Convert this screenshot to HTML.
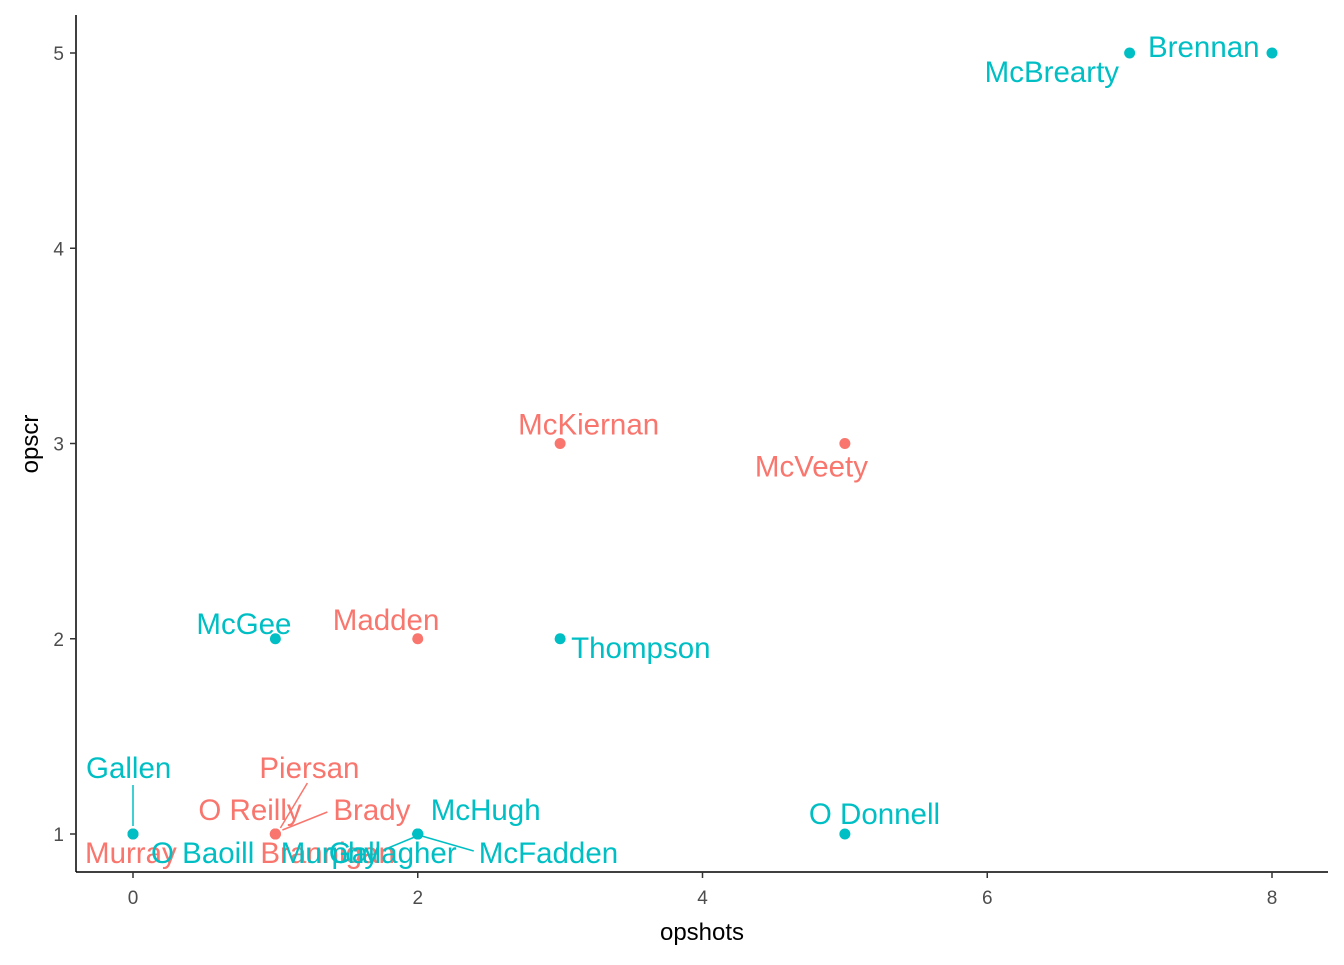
<!DOCTYPE html>
<html><head><meta charset="utf-8"><style>
body{margin:0;background:#fff;}
svg text{font-family:"Liberation Sans",Arial,sans-serif;}
</style></head><body>
<svg id="chart" width="1344" height="960" xmlns="http://www.w3.org/2000/svg">
<rect width="1344" height="960" fill="#fff"/>
<g id="labels"></g>
<g id="points"></g>
<line x1="76" y1="15" x2="76" y2="872" stroke="#000" stroke-width="1.5"/>
<line x1="76" y1="872" x2="1328" y2="872" stroke="#000" stroke-width="1.5"/>
<g id="axes"></g>
<text x="702" y="940" font-size="24" text-anchor="middle">opshots</text>
<text transform="translate(38,444) rotate(-90)" font-size="24" text-anchor="middle">opscr</text>
</svg>
<script>
const names=["Gallen","Murray","O Baoill","O Reilly","Piersan","Brady","Brannigan","McHugh","McFadden","Murphy","Gallagher","O Donnell","McGee","Madden","Thompson","McKiernan","McVeety","McBrearty","Brennan"];
const xs=[0,0,0,1,1,1,1,2,2,2,2,5,1,2,3,3,5,7,8];
const ys=[1,1,1,1,1,1,1,1,1,1,1,1,2,2,2,3,3,5,5];
const groups=["b","a","b","a","a","a","a","b","b","b","b","b","b","a","b","a","a","b","b"];
// label offsets in px (layout, not data)
const ldx=[-47,-48,18,-77,-16,58,-15,13,61,-137,-89,-36,-79,-85,11,-42,-90,-145,-124];
const ldy=[-56,29,29,-14,-56,-14,29,-14,29,29,29,-10,-5,-9,19,-9,33,29,4];
const xTicks=[0,2,4,6,8];
const yTicks=[1,2,3,4,5];
const X=v=>133+v*142.375, Y=v=>834-(v-1)*195.25;
const col={a:"#F8766D",b:"#00BFC4"};
const NS="http://www.w3.org/2000/svg";
function mk(t,a,p){const e=document.createElementNS(NS,t);for(const k in a)e.setAttribute(k,a[k]);p.appendChild(e);return e;}
const ax=document.getElementById('axes'),pg=document.getElementById('points'),lg=document.getElementById('labels');
xTicks.forEach(v=>{mk('line',{x1:X(v),x2:X(v),y1:872,y2:878,stroke:'#333','stroke-width':1.5},ax);
 const t=mk('text',{x:X(v),y:904,'font-size':19,'text-anchor':'middle',fill:'#4d4d4d'},ax);t.textContent=v;
 
 });
yTicks.forEach(v=>{mk('line',{x1:70,x2:76,y1:Y(v),y2:Y(v),stroke:'#333','stroke-width':1.5},ax);
 const t=mk('text',{x:64,y:Y(v)+7,'font-size':19,'text-anchor':'end',fill:'#4d4d4d'},ax);t.textContent=v;
 
 });
// leader segments
const segs=[[0,[0,-8],[0,-49]],[4,[5,-6],[32,-51]],[5,[7,-4],[52,-22]],[8,[4,2],[56,17]],[10,[-3,3],[-37,17]]];
segs.forEach(s=>{const i=s[0];mk('line',{x1:X(xs[i])+s[1][0],y1:Y(ys[i])+s[1][1],x2:X(xs[i])+s[2][0],y2:Y(ys[i])+s[2][1],stroke:col[groups[i]],'stroke-width':1.5},lg);});
names.forEach((n,i)=>{
 const t=mk('text',{x:X(xs[i])+ldx[i],y:Y(ys[i])+ldy[i],'font-size':29.5,fill:col[groups[i]]},lg);t.textContent=n;
 
 
 const c=mk('circle',{cx:X(xs[i]),cy:Y(ys[i]),r:5.5,fill:col[groups[i]]},pg);
 
 
});
</script>
</body></html>
